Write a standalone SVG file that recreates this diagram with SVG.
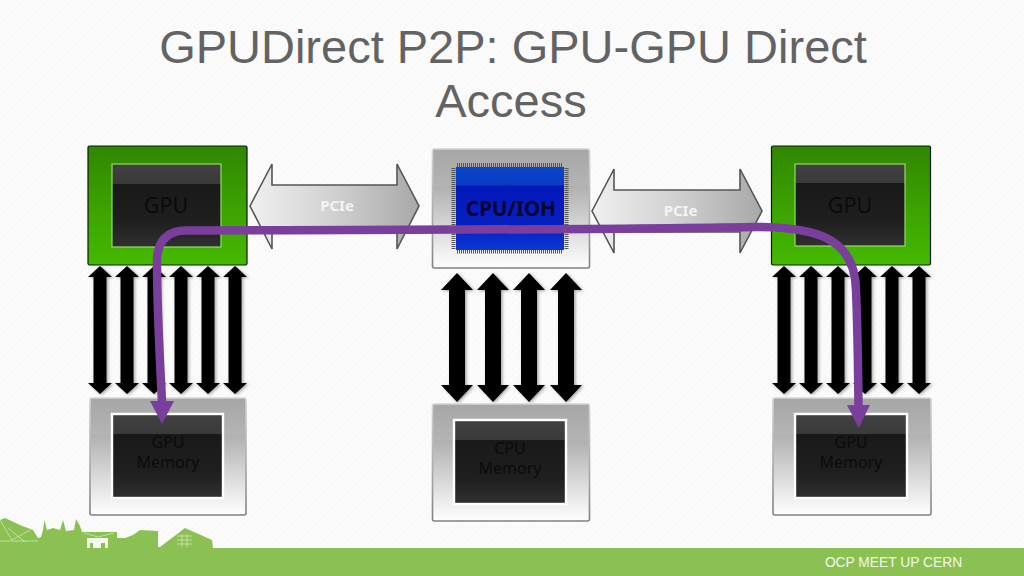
<svg xmlns="http://www.w3.org/2000/svg" xmlns:xlink="http://www.w3.org/1999/xlink" width="1024" height="576" viewBox="0 0 1024 576">
<style>
.title{font:47px "Liberation Sans",Arial,sans-serif;fill:#636363;text-anchor:middle}
.lbl{font-family:"Noto Sans","Open Sans",sans-serif;fill:#0b0b0b;text-anchor:middle}
.gpu{font-size:21.5px}
.mem{font-size:16px}
.pcie{font-size:15px;font-weight:700;fill:#f4f4f4}
.cpu{font-size:20.5px;font-weight:700;fill:#050530}
.foot{font:13.8px "Liberation Sans",Arial,sans-serif;fill:#f2f7ea;text-anchor:middle}
.green{fill:url(#gGreen);stroke:#0c1a04;stroke-width:1.2}
.dark{fill:url(#gDark);stroke:#8fe060;stroke-width:1.2}
.darkm{fill:url(#gDark);stroke:#fff;stroke-width:2.4}
.gray{fill:url(#gGray);stroke:url(#gEdge);stroke-width:1.6}
.pipe{stroke:#555;stroke-width:1.6;fill:url(#gPipe)}
.bus{fill:#000;filter:url(#sh)}
.pins{stroke:#555;stroke-width:4;stroke-dasharray:1 1;fill:none}
.detail{stroke:#d9ebc4;stroke-width:.7;fill:none}
.wht{fill:#f4f9ee}
</style>
<defs>
<pattern id="bgp" width="6" height="6" patternUnits="userSpaceOnUse"><rect width="6" height="6" fill="#fbfbfb"/><path d="M0 6L6 0" stroke="#f6f6f6" stroke-width="1"/></pattern>
<linearGradient id="gGreen" x1="0" y1="0" x2="0" y2="1"><stop offset="0" stop-color="#2f8700"/><stop offset=".6" stop-color="#3ea600"/><stop offset="1" stop-color="#45b800"/></linearGradient>
<linearGradient id="gDark" x1="0" y1="0" x2="0" y2="1"><stop offset="0" stop-color="#414141"/><stop offset=".235" stop-color="#3a3a3a"/><stop offset=".236" stop-color="#191919"/><stop offset=".7" stop-color="#1f1f1f"/><stop offset="1" stop-color="#303030"/></linearGradient>
<linearGradient id="gGray" x1="0" y1="0" x2="0" y2="1"><stop offset="0" stop-color="#a6a6a6"/><stop offset=".31" stop-color="#b4b4b4"/><stop offset=".315" stop-color="#b0b0b0"/><stop offset=".92" stop-color="#f6f6f6"/><stop offset="1" stop-color="#fdfdfd"/></linearGradient>
<linearGradient id="gEdge" x1="0" y1="0" x2="0" y2="1"><stop offset="0" stop-color="#d4d4d4"/><stop offset=".6" stop-color="#a8a8a8"/><stop offset="1" stop-color="#808080"/></linearGradient>
<linearGradient id="gBlue" x1="0" y1="0" x2="0" y2="1"><stop offset="0" stop-color="#0a44cc"/><stop offset=".22" stop-color="#0a3cc6"/><stop offset=".225" stop-color="#0418b8"/><stop offset=".7" stop-color="#0620c0"/><stop offset="1" stop-color="#0c36d2"/></linearGradient>
<linearGradient id="gPipe" x1="0" y1="0" x2="1" y2="0"><stop offset="0" stop-color="#f0f0f0"/><stop offset=".5" stop-color="#d0d0d0"/><stop offset="1" stop-color="#a8a8a8"/></linearGradient>
<filter id="sh" x="-40%" y="-5%" width="180%" height="110%"><feDropShadow dx="1.5" dy="1" stdDeviation="1.5" flood-color="#000" flood-opacity=".35"/></filter>
<marker id="pa" markerUnits="userSpaceOnUse" markerWidth="24" markerHeight="24" refX="0" refY="12" orient="auto"><path d="M0 0.5L23 12L0 23.5Z" fill="#7a3f9d"/></marker>
<path id="bus6" d="M0 0L12 11H6.500V117H12L0 128L-12 117H-6.500V11H-12Z"/>
<path id="bus4" d="M0 0L16 17H8V112H16L0 129L-16 112H-8V17H-16Z"/>
</defs>
<rect id="background" width="1024" height="576" fill="url(#bgp)"/>

<g id="title"><text class="title" x="513" y="63">GPUDirect P2P: GPU-GPU Direct</text><text class="title" x="511" y="117">Access</text></g>

<g id="footer">
<path d="M0 548V520L5 518L20 525L33 530L38 538L41 537L43 530L44.500 520L47 530L53 528L60 530L63 520L66 531L74 530L76 519L80 526L82 532L117 532V538L125 538L133 535L140 530L158 531V547H160L185 528L212 540L213 548Z" fill="#8bc152"/>
<rect y="548" width="1024" height="28" fill="#8bc152"/>
<path class="wht" d="M87 538H108V548H105V543H101V548H93V543H90V548H87Z"/>
<path class="detail" d="M0 520L12 540L30 530M8 528L25 542M84 533L98 537L114 533M177 536H192M177 540H192M177 544H192M182 534V547M187 534V547M0 541H38"/>
<text class="foot" x="893.500" y="567">OCP MEET UP CERN</text>
</g>

<g id="connectors">
<g id="bus-left" class="bus"><use xlink:href="#bus6" href="#bus6" x="100" y="266"/><use xlink:href="#bus6" href="#bus6" x="127" y="266"/><use xlink:href="#bus6" href="#bus6" x="154" y="266"/><use xlink:href="#bus6" href="#bus6" x="181" y="266"/><use xlink:href="#bus6" href="#bus6" x="208" y="266"/><use xlink:href="#bus6" href="#bus6" x="235" y="266"/></g>
<g id="bus-center" class="bus"><use xlink:href="#bus4" href="#bus4" x="457" y="273"/><use xlink:href="#bus4" href="#bus4" x="493" y="273"/><use xlink:href="#bus4" href="#bus4" x="529" y="273"/><use xlink:href="#bus4" href="#bus4" x="566" y="273"/></g>
<g id="bus-right" class="bus"><use xlink:href="#bus6" href="#bus6" x="784" y="266"/><use xlink:href="#bus6" href="#bus6" x="811" y="266"/><use xlink:href="#bus6" href="#bus6" x="838" y="266"/><use xlink:href="#bus6" href="#bus6" x="865" y="266"/><use xlink:href="#bus6" href="#bus6" x="892" y="266"/><use xlink:href="#bus6" href="#bus6" x="919" y="266"/></g>
<g id="pcie-left"><path class="pipe" d="M250 206L272 164V185H397V164L419 206L397 249V227H272V249Z"/><text class="lbl pcie" x="337" y="211">PCIe</text></g>
<g id="pcie-right"><path class="pipe" d="M592 211L614 169V190H740V169L762 211L740 253V232H614V253Z"/><text class="lbl pcie" x="680.500" y="216">PCIe</text></g>
</g>

<g id="gpu-left"><rect class="green" x="88" y="146" width="159" height="119" rx="1.500"/><rect class="dark" x="112" y="164" width="109" height="83"/><text class="lbl gpu" x="166" y="213">GPU</text></g>
<g id="gpu-right"><rect class="green" x="771.500" y="146" width="159" height="119" rx="1.500"/><rect class="dark" x="795" y="164" width="110" height="82"/><text class="lbl gpu" x="850" y="213">GPU</text></g>
<g id="cpu"><rect class="gray" x="432.500" y="149" width="157" height="119" rx="2"/>
<path class="pins" d="M457 165H563M457 251.500H563M453.500 168V249M566.500 168V249"/>
<rect x="456" y="167" width="108" height="83" fill="url(#gBlue)"/><text class="lbl cpu" x="511" y="216">CPU/IOH</text></g>
<g id="memory-left"><rect class="gray" x="90" y="398" width="156" height="117" rx="2"/><rect class="darkm" x="112" y="414" width="111" height="84"/><text class="lbl mem" x="168" y="448">GPU</text><text class="lbl mem" x="168" y="468">Memory</text></g>
<g id="memory-center"><rect class="gray" x="432.500" y="404" width="157" height="117" rx="2"/><rect class="darkm" x="454" y="420" width="112" height="84"/><text class="lbl mem" x="510" y="454">CPU</text><text class="lbl mem" x="510" y="474">Memory</text></g>
<g id="memory-right"><rect class="gray" x="773" y="398" width="158" height="117" rx="2"/><rect class="darkm" x="795" y="414" width="112" height="84"/><text class="lbl mem" x="851" y="448">GPU</text><text class="lbl mem" x="851" y="468">Memory</text></g>

<g id="data-path"><path d="M162 402C160 360 157 310 157 262C157 240 168 230.500 186 230.500C300 230 600 230 755 227C820 227 855 240 856 290C858 340 858 370 858.500 405" fill="none" stroke="#7a3f9d" stroke-width="8.500" stroke-linejoin="round" marker-end="url(#pa)"/>
<path d="M150 401H174L162 424Z" fill="#7a3f9d"/></g>
</svg>
